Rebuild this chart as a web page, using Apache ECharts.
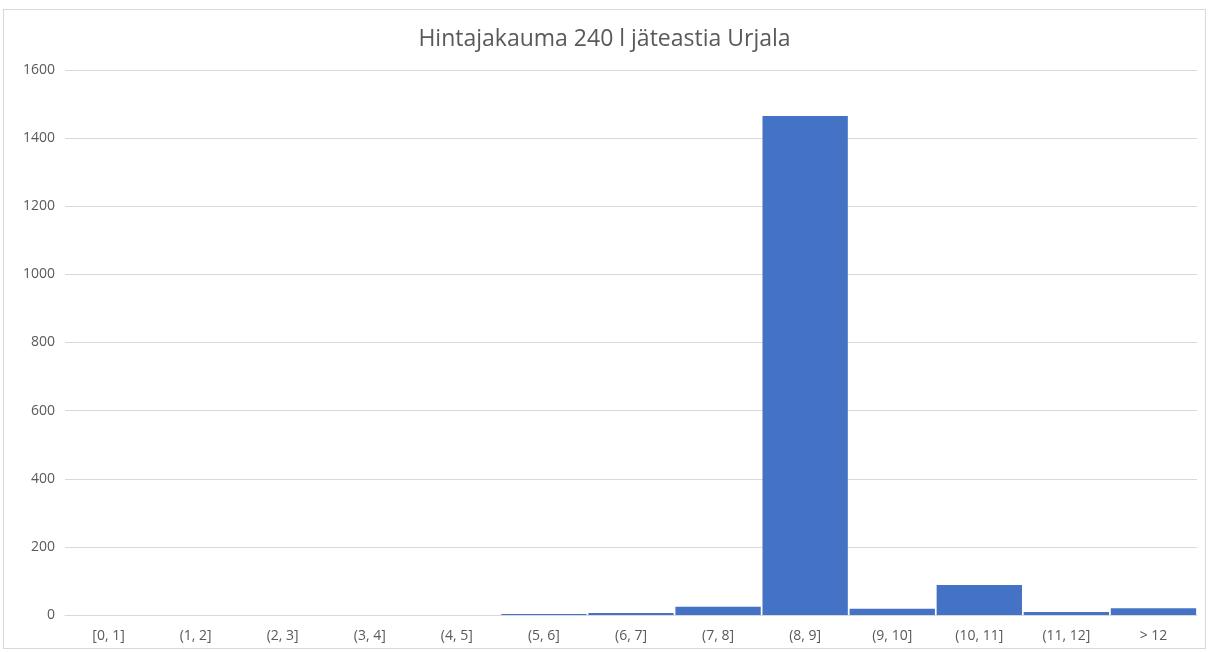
<!DOCTYPE html>
<html>
<head>
<meta charset="utf-8">
<script src="https://cdn.jsdelivr.net/npm/echarts@6/dist/echarts.min.js"></script>
<style>
  html, body { margin: 0; padding: 0; background: #fff; }
  #frame { position: absolute; left: 3px; top: 9px; width: 1203px; height: 640px; border: 1px solid #d9d9d9; box-sizing: border-box; }
  #chart { width: 100%; height: 100%; }
</style>
</head>
<body>
<div id="frame"><div id="chart"></div></div>
<script>
// hintaluokat (€) ja lukumäärät
var categories = ['[0, 1]', '(1, 2]', '(2, 3]', '(3, 4]', '(4, 5]', '(5, 6]', '(6, 7]', '(7, 8]', '(8, 9]', '(9, 10]', '(10, 11]', '(11, 12]', '> 12'];
var counts = [0, 0, 0, 0, 0, 3, 6, 24, 1465, 18, 88, 9, 20];
var yTicks = [0, 1600, 200]; // min, max, interval

var myChart = echarts.init(document.getElementById('chart'));
var option = {
  animation: false,
  title: {
    text: 'Hintajakauma 240 l jäteastia Urjala',
    left: 'center',
    top: 13,
    textStyle: { color: '#595959', fontSize: 23, fontWeight: 'normal', fontFamily: 'Open Sans' }
  },
  grid: { left: 61, right: 8, top: 60, bottom: 33 },
  xAxis: {
    type: 'category',
    data: categories,
    axisLine: { show: true, lineStyle: { color: '#d9d9d9' } },
    axisTick: { show: false },
    axisLabel: { color: '#595959', fontSize: 14, margin: 14, fontFamily: 'Open Sans' }
  },
  yAxis: {
    type: 'value',
    min: yTicks[0],
    max: yTicks[1],
    interval: yTicks[2],
    axisLine: { show: false },
    axisTick: { show: false },
    axisLabel: { color: '#595959', fontSize: 14, margin: 10, fontFamily: 'Open Sans', formatter: function (v) { return String(v); } },
    splitLine: { lineStyle: { color: '#d9d9d9' } }
  },
  series: [{
    type: 'bar',
    data: counts,
    barCategoryGap: '2%',
    itemStyle: { color: '#4472c4' }
  }]
};
myChart.setOption(option);
</script>
</body>
</html>
